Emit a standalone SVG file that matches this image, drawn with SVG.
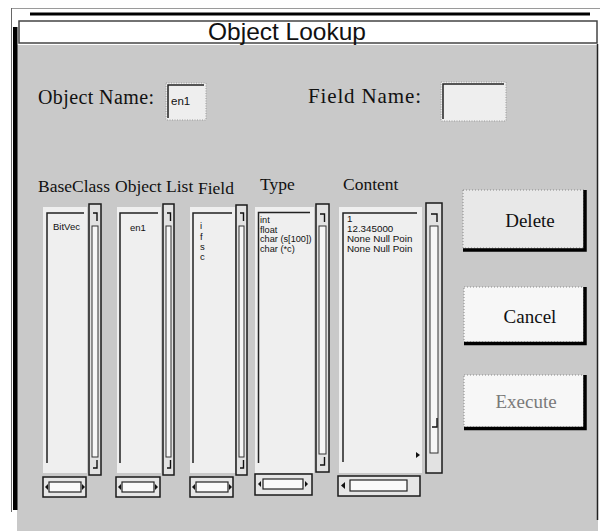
<svg xmlns="http://www.w3.org/2000/svg" width="603" height="531" viewBox="0 0 603 531">
<style>
.serif{font-family:"Liberation Serif","Times New Roman",serif;fill:#111}
.sans{font-family:"Liberation Sans",Arial,sans-serif;fill:#111}
.hdr{font-size:17.5px}
.item{font-size:9.5px}
.list{fill:#efefef}
.sunk{fill:none;stroke:#222;stroke-width:1.5}
.vs{fill:#e2e2e2;stroke:#1a1a1a;stroke-width:1.5}
.track{fill:#f6f6f6;stroke:#333;stroke-width:1}
.arr{fill:none;stroke:#111;stroke-width:1.4}
.hs{fill:#e6e6e6;stroke:#1a1a1a;stroke-width:1.5}
.hin{fill:#fafafa;stroke:#222;stroke-width:1.2}
.tri{fill:#111}
.face{stroke:#8a8a8a;stroke-width:1;stroke-dasharray:1 2}
.shadow{fill:none;stroke:#000;stroke-width:3.5}
.btn{font-size:19px;text-anchor:middle}
.box{fill:#eeeeee;stroke:#9a9a9a;stroke-width:1;stroke-dasharray:1 1.5}
</style>
<rect x="0" y="0" width="603" height="531" fill="#ffffff"/>
<g id="frame">
  <rect x="17" y="45" width="581" height="486" fill="#c9c9c9"/>
  <line x1="11" y1="8.5" x2="600" y2="8.5" stroke="#9a9a9a" stroke-width="1"/>
  <line x1="11.5" y1="8" x2="11.5" y2="512" stroke="#666" stroke-width="1"/>
  <rect x="30" y="12.5" width="560" height="3" fill="#000"/>
  <rect x="13" y="27" width="4.5" height="483" fill="#000"/>
  <line x1="597.5" y1="44" x2="597.5" y2="520" stroke="#222" stroke-width="1.5"/>
</g>
<g id="title">
  <rect x="19" y="21" width="578" height="22" fill="#fff" stroke="#444" stroke-width="1.5"/>
  <text class="sans" x="287" y="39.5" font-size="24.5" text-anchor="middle">Object Lookup</text>
</g>
<g id="object-name">
  <text class="serif" x="38" y="104" font-size="20" textLength="116" lengthAdjust="spacing">Object Name:</text>
  <rect class="box" x="166" y="83" width="40" height="37"/>
  <path class="sunk" d="M168 118 V85 H204"/>
  <text class="sans" x="171" y="105" font-size="11.5">en1</text>
</g>
<g id="field-name">
  <text class="serif" x="308" y="103" font-size="21" textLength="113" lengthAdjust="spacing">Field Name:</text>
  <rect class="box" x="441" y="82" width="65" height="39"/>
  <path class="sunk" d="M443 119 V84 H504"/>
</g>
<g id="headers">
  <text class="serif hdr" x="38" y="192">BaseClass</text>
  <text class="serif hdr" x="115" y="192">Object List</text>
  <text class="serif hdr" x="198" y="194">Field</text>
  <text class="serif hdr" x="260" y="190">Type</text>
  <text class="serif hdr" x="343" y="190">Content</text>
</g>
<g id="baseclass-list">
  <rect class="list" x="43" y="207" width="44" height="266"/>
  <path class="sunk" d="M47 463 V213 H84"/>
  <text class="sans item" x="53" y="230">BitVec</text>
  <rect class="vs" x="89" y="204" width="12" height="271"/>
  <path class="arr" d="M93 213 h4 v8"/>
  <rect class="track" x="92" y="226" width="6" height="231"/>
  <path class="arr" d="M97 460 v8 h-4"/>
  <rect class="hs" x="43" y="477" width="43" height="20"/>
  <rect class="hin" x="49" y="482" width="32" height="10"/>
  <polygon class="tri" points="48,484 45,487 48,490"/>
  <polygon class="tri" points="82,484 85,487 82,490"/>
</g>
<g id="object-list">
  <rect class="list" x="117" y="207" width="44" height="266"/>
  <path class="sunk" d="M120 463 V213 H158"/>
  <text class="sans item" x="130" y="231">en1</text>
  <rect class="vs" x="163" y="204" width="11" height="271"/>
  <path class="arr" d="M167 213 h3.5 v8"/>
  <rect class="track" x="166" y="226" width="5" height="231"/>
  <path class="arr" d="M170.5 460 v8 h-3.5"/>
  <rect class="hs" x="116" y="477" width="44" height="20"/>
  <rect class="hin" x="122" y="482" width="32" height="10"/>
  <polygon class="tri" points="121,484 118,487 121,490"/>
  <polygon class="tri" points="155,484 158,487 155,490"/>
</g>
<g id="field-list">
  <rect class="list" x="190" y="207" width="45" height="266"/>
  <path class="sunk" d="M193 463 V213 H232"/>
  <text class="sans item" x="200" y="229">i</text>
  <text class="sans item" x="200" y="239.5">f</text>
  <text class="sans item" x="200" y="250">s</text>
  <text class="sans item" x="200" y="259.5">c</text>
  <rect class="vs" x="236" y="205" width="11" height="270"/>
  <path class="arr" d="M240 213 h3.5 v8"/>
  <rect class="track" x="239" y="226" width="5" height="231"/>
  <path class="arr" d="M243.5 460 v8 h-3.5"/>
  <rect class="hs" x="190" y="477" width="43" height="20"/>
  <rect class="hin" x="196" y="482" width="32" height="10"/>
  <polygon class="tri" points="195,484 192,487 195,490"/>
  <polygon class="tri" points="229,484 232,487 229,490"/>
</g>
<g id="type-list">
  <rect class="list" x="255" y="207" width="59" height="266"/>
  <path class="sunk" d="M258.5 463 V212.5 H310"/>
  <text class="sans" font-size="9.2" x="260" y="223">int</text>
  <text class="sans" font-size="9.2" x="260" y="232.5">float</text>
  <text class="sans" font-size="9.2" x="260" y="242">char (s[100])</text>
  <text class="sans" font-size="9.2" x="260" y="251.5">char (*c)</text>
  <rect class="vs" x="316" y="204" width="13" height="268"/>
  <path class="arr" d="M320 214 h4.5 v8"/>
  <rect class="track" x="319" y="226" width="7" height="228"/>
  <path class="arr" d="M324.5 457 v8 h-4.5"/>
  <rect class="hs" x="255" y="474" width="57" height="21"/>
  <rect class="hin" x="263" y="479" width="40" height="10"/>
  <polygon class="tri" points="261,481 258,484 261,487"/>
  <polygon class="tri" points="305,481 308,484 305,487"/>
</g>
<g id="content-list">
  <rect class="list" x="339" y="207" width="83" height="266"/>
  <path class="sunk" d="M343 462 V213 H417"/>
  <text class="sans" font-size="9.8" x="347" y="222">1</text>
  <text class="sans" font-size="9.8" x="347" y="232">12.345000</text>
  <text class="sans" font-size="9.8" x="347" y="242">None Null Poin</text>
  <text class="sans" font-size="9.8" x="347" y="251.5">None Null Poin</text>
  <polygon class="tri" points="416,452 420,455 416,458"/>
  <rect class="vs" x="426" y="203" width="16" height="270"/>
  <path class="arr" d="M431 214 h6 v8"/>
  <rect class="track" x="430" y="226" width="8" height="227"/>
  <path class="arr" d="M437 418 v9 h-5"/>
  <rect class="hs" x="338" y="476" width="82" height="20"/>
  <rect class="hin" x="350" y="480" width="57" height="11"/>
  <polygon class="tri" points="345,482 341,485.5 345,489"/>
</g>
<g id="delete-button">
  <rect class="face" x="463" y="190" width="121" height="58" fill="#e8e8e8"/>
  <path class="shadow" d="M585 190 V250 H463"/>
  <text class="serif btn" x="530" y="227">Delete</text>
</g>
<g id="cancel-button">
  <rect class="face" x="464" y="287" width="120" height="55" fill="#f7f7f7"/>
  <path class="shadow" d="M585 287 V343.5 H464"/>
  <text class="serif btn" x="530" y="323">Cancel</text>
</g>
<g id="execute-button">
  <rect class="face" x="464" y="375" width="120" height="52" fill="#f7f7f7"/>
  <path class="shadow" d="M585 375 V428.5 H464"/>
  <text class="serif btn" x="526" y="408" style="fill:#7a7a7a">Execute</text>
</g>
<g id="connectors"></g>
</svg>
